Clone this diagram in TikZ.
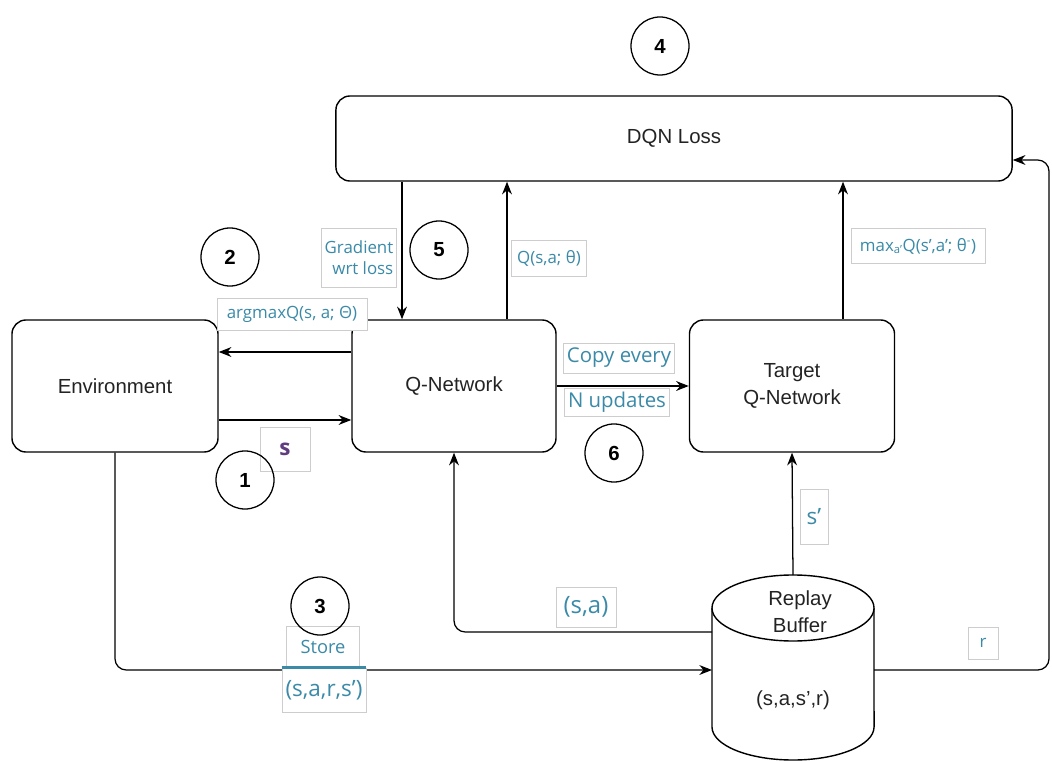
\documentclass[tikz,border=0pt]{standalone}
\usepackage{fontspec}
\setmainfont{Liberation Sans}
\newfontfamily\lblfont{Open Sans}
\usetikzlibrary{arrows.meta}
\definecolor{lblteal}{RGB}{58,138,168}
\definecolor{lblgray}{RGB}{205,205,205}
\definecolor{lblpurple}{RGB}{95,60,125}
\definecolor{darktext}{RGB}{35,35,35}
\tikzset{
  block/.style={draw=black, line width=1pt, rounded corners=10pt, align=center, text=darktext, font=\fontsize{14.5}{19}\selectfont},
  arr/.style={-{Stealth[length=9pt,width=7pt]}, line width=0.9pt},
  lbl/.style={draw=lblgray, fill=white, text=lblteal, line width=0.6pt, inner sep=2.5pt, font=\lblfont\fontsize{12}{15}\selectfont},
  biglbl/.style={lbl, font=\lblfont\fontsize{16}{18}\selectfont},
  stepnum/.style={draw=black, circle, line width=0.9pt, minimum size=1.45cm, font=\bfseries\fontsize{14.5}{16}\selectfont}
}
\begin{document}
\begin{tikzpicture}[x=0.025cm, y=-0.025cm]
  \useasboundingbox (0,0) rectangle (1052,761);

  % DRAW BOXES
  \node[block, minimum width=16.9cm, minimum height=2.125cm] (loss) at (674,138.5) {DQN Loss};
  \node[block, minimum width=5.15cm, minimum height=3.3cm] (env) at (115,386) {Environment};
  \node[block, minimum width=5.1cm, minimum height=3.3cm] (qnet) at (454,386) {Q-Network};
  \node[block, minimum width=5.125cm, minimum height=3.3cm] (target) at (792,386) {Target\\Q-Network};

  % replay buffer
  \draw[line width=1pt] (712,608) -- (712,727) arc[start angle=180, end angle=360, x radius=2.025cm, y radius=0.825cm] -- (874,608);
  \draw[line width=1pt, fill=white] (793,608) ellipse[x radius=2.025cm, y radius=0.825cm];
  \node[align=center, text=darktext, font=\fontsize{14.5}{19}\selectfont] (buf) at (800,612) {Replay\\Buffer};
  \node[text=darktext, font=\fontsize{14.5}{19}\selectfont] (bufdata) at (793,700) {(s,a,s',r)};
  \coordinate (buftop) at (793,575);
  \coordinate (bufsa) at (712,632);
  \coordinate (bufin) at (712,670);
  \coordinate (bufr) at (874,670);

  % DRAW ARROWS
  \draw[arr] (qnet.west |- 0,352) -- (env.east |- 0,352);
  \draw[arr] (env.east |- 0,420) -- (qnet.west |- 0,420);
  \draw[arr] (loss.south -| 402,0) -- (qnet.north -| 402,0);
  \draw[arr] (qnet.north -| 507,0) -- (loss.south -| 507,0);
  \draw[arr] (target.north -| 843,0) -- (loss.south -| 843,0);
  \draw[arr] (qnet.east) -- (target.west);
  \draw[arr] (buftop) -- (target.south);
  \draw[arr, rounded corners=8pt] (bufsa) -| (qnet.south);
  \draw[arr, rounded corners=8pt] (env.south) |- (bufin);
  \draw[arr, rounded corners=8pt] (bufr) -- (1049,670) -- (1049,160) -- (loss.east |- 0,160);

  % DRAW LABELS
  \node[lbl, minimum width=3.75cm, minimum height=0.8cm] (argmax) at (292,314) {argmaxQ(s, a; Θ)};
  \node[lbl, align=right, minimum width=1.875cm, minimum height=1.475cm] (grad) at (359,258) {Gradient\\wrt loss};
  \node[lbl, minimum width=1.875cm, minimum height=0.9cm] (qval) at (549,258) {Q(s,a; θ)};
  \node[lbl, minimum width=3.35cm, minimum height=0.875cm] (qmax) at (918,246) {max\textsubscript{a’}Q(s’,a’; θ\textsuperscript{-})};
  \node[lbl, font=\lblfont\fontsize{14.5}{16}\selectfont, minimum width=2.775cm, minimum height=0.75cm] (copy) at (619,358) {Copy every};
  \node[lbl, font=\lblfont\fontsize{14.5}{16}\selectfont, minimum width=2.5cm, minimum height=0.7cm] (nupd) at (617,402) {N updates};
  \node[lbl, text=lblpurple, font=\lblfont\bfseries\fontsize{16}{18}\selectfont, minimum width=1.25cm, minimum height=1.1cm] (sstate) at (285,449) {s};
  \node[lbl, font=\lblfont\fontsize{13}{15}\selectfont, minimum width=1.825cm, minimum height=1.05cm] (store) at (323,647) {Store};
  \node[biglbl, minimum width=2.1cm, minimum height=1.1cm] (sars) at (324,690) {(s,a,r,s’)};
  \draw[lblteal, line width=1.8pt] (sars.north west) -- (sars.north east);
  \node[biglbl, font=\lblfont\fontsize{17}{19}\selectfont, minimum width=1.5cm, minimum height=1cm] (sapair) at (586,607) {(s,a)};
  \node[biglbl, minimum width=0.7cm, minimum height=1.375cm] (snext) at (814,517) {s’};
  \node[lbl, minimum width=0.75cm, minimum height=0.8cm] (rew) at (983,643) {r};

  % DRAW STEPS
  \node[stepnum] (step1) at (245,480) {1};
  \node[stepnum] (step2) at (230,257) {2};
  \node[stepnum] (step3) at (320,606) {3};
  \node[stepnum] (step4) at (660,46) {4};
  \node[stepnum] (step5) at (439,250) {5};
  \node[stepnum] (step6) at (614,453) {6};
\end{tikzpicture}
\end{document}
